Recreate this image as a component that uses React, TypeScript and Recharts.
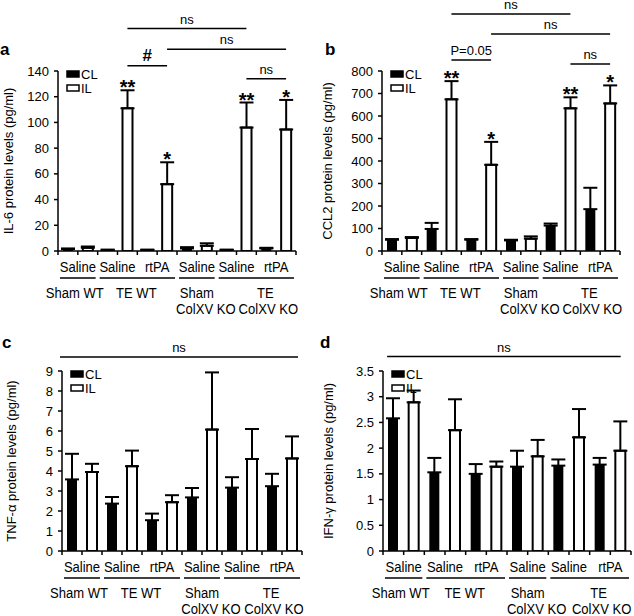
import React from 'react';
import { BarChart, Bar, XAxis, YAxis, ErrorBar, ReferenceLine, ReferenceDot, Legend } from 'recharts';

const FONT = 'Arial, "Liberation Sans", Helvetica, sans-serif';

// x axis: treatment per category, then the genotype groups below them
const treatments = ['Saline', 'Saline', 'rtPA', 'Saline', 'Saline', 'rtPA'];
const groupLines = [['Sham WT'], ['TE WT'], ['Sham', 'ColXV KO'], ['TE', 'ColXV KO']];
const groupStart = [0, 1, 3, 4];
const groupSpan = [1, 2, 1, 2];
const groupDx = [[-3], [-1], [0, 9], [9, 12]];
// one slot per bar, 12 in all; ticks sit between the bars
const slotTicks = [0, 1, 2, 3, 4, 5, 6, 7, 8, 9, 10, 11, 12];

// a: IL-6
const il6CL = [1.5, 0.8, 0.8, 2, 0.8, 2];
const il6CLErr = [0.5, 0.3, 0.3, 1, 0.3, 0.5];
const il6IL = [2.5, 111, 52, 4, 96, 94.5];
const il6ILErr = [1, 14, 17, 2, 19.5, 23];
const il6Ticks = [0, 20, 40, 60, 80, 100, 120, 140];

// b: CCL2
const ccl2CL = [50, 98, 50, 47, 113, 186];
const ccl2CLErr = [3, 27, 3, 3, 9, 95];
const ccl2IL = [58, 674, 383, 55, 634, 656];
const ccl2ILErr = [4, 81, 102, 10, 49, 80];
const ccl2Ticks = [0, 100, 200, 300, 400, 500, 600, 700, 800];

// c: TNF-α
const tnfCL = [3.58, 2.37, 1.54, 2.68, 3.17, 3.24];
const tnfCLErr = [1.28, 0.33, 0.33, 0.47, 0.52, 0.62];
const tnfIL = [3.95, 4.24, 2.44, 6.07, 4.6, 4.63];
const tnfILErr = [0.41, 0.78, 0.35, 2.86, 1.5, 1.1];
const tnfTicks = [0, 1, 2, 3, 4, 5, 6, 7, 8, 9];

// d: IFN-γ
const ifnCL = [2.58, 1.53, 1.5, 1.64, 1.66, 1.68];
const ifnCLErr = [0.39, 0.28, 0.19, 0.31, 0.12, 0.13];
const ifnIL = [2.89, 2.35, 1.64, 1.84, 2.21, 1.95];
const ifnILErr = [0.23, 0.6, 0.1, 0.32, 0.55, 0.57];
const ifnTicks = [0, 0.5, 1, 1.5, 2, 2.5, 3, 3.5];

// significance brackets (x in bar slots, y in data units) and stars on IL bars
type Sig = { from: number; to: number; y: number; text: string };
type Star = { cat: number; mark: string };

const il6Sig: Sig[] = [
  { from: 3.5, to: 9.5, y: 173, text: 'ns' },
  { from: 5.5, to: 11.5, y: 157, text: 'ns' },
  { from: 3.5, to: 5.5, y: 144, text: '#' },
  { from: 9.5, to: 11.5, y: 134, text: 'ns' },
];
const il6Stars: Star[] = [
  { cat: 1, mark: '**' },
  { cat: 2, mark: '*' },
  { cat: 4, mark: '**' },
  { cat: 5, mark: '*' },
];
const ccl2Sig: Sig[] = [
  { from: 3.5, to: 9.5, y: 1053, text: 'ns' },
  { from: 5.5, to: 11.5, y: 964, text: 'ns' },
  { from: 3.5, to: 5.5, y: 849, text: 'P=0.05' },
  { from: 9.5, to: 11.5, y: 831, text: 'ns' },
];
const ccl2Stars: Star[] = il6Stars;
const tnfSig: Sig[] = [{ from: -0.1, to: 11.8, y: 9.7, text: 'ns' }];
const ifnSig: Sig[] = [{ from: 0.2, to: 11.5, y: 3.78, text: 'ns' }];

// slightly condensed text, like the original figure's lettering
function Narrow({ x, y, children }: { x: number; y: number; children: React.ReactNode }) {
  return (
    <text transform={`translate(${x},${y}) scale(0.9,1)`} textAnchor="middle" fontSize={14.5}>
      {children}
    </text>
  );
}

function SlotTick(props: any) {
  const { x, y, payload, catW } = props;
  const v = payload.value;
  if (v % 2 !== 1) return <g />;
  const k = (v - 1) / 2;
  const ay = y - 4;
  const g = groupStart.indexOf(k);
  const start = x - catW / 2;
  return (
    <g fontFamily={FONT} fill="#000">
      <Narrow x={x} y={ay + 21}>
        {treatments[k]}
      </Narrow>
      {g >= 0 && (
        <>
          <line
            x1={start + 2}
            x2={start + groupSpan[g] * catW - 2}
            y1={ay + 27}
            y2={ay + 27}
            stroke="#000"
            strokeWidth={1.5}
          />
          {groupLines[g].map((t, j) => (
            <Narrow key={j} x={start + (groupSpan[g] * catW) / 2 + groupDx[g][j]} y={ay + 47 + j * 16}>
              {t}
            </Narrow>
          ))}
        </>
      )}
    </g>
  );
}

const renderLegend = (props: any) => (
  <div style={{ fontFamily: FONT, fontSize: 13, color: '#000' }}>
    {(props.payload || []).map((entry: any) => (
      <div key={entry.value} style={{ display: 'flex', alignItems: 'center', height: 14 }}>
        <svg width={15} height={8}>
          <rect x={1} y={1} width={12} height={6} fill={entry.color} stroke="#000" strokeWidth={1.5} />
        </svg>
        <span>{entry.value}</span>
      </div>
    ))}
  </div>
);

interface PanelProps {
  cl: number[];
  clErr: number[];
  il: number[];
  ilErr: number[];
  ticks: number[];
  yLabel: string;
  sig: Sig[];
  stars: Star[];
  left: number;
  top: number;
  plotLeft: number;
  plotWidth: number;
  labelOffset: number;
}

function Panel(p: PanelProps) {
  const data = treatments.map((t, i) => ({
    name: t,
    center: 2 * i + 1,
    cl: p.cl[i],
    clErr: [0, p.clErr[i]],
    il: p.il[i],
    ilErr: [0, p.ilErr[i]],
  }));
  const slot = p.plotWidth / 12;
  const yMax = p.ticks[p.ticks.length - 1];
  return (
    <div style={{ position: 'absolute', left: p.left, top: p.top }}>
      <BarChart
        width={317}
        height={316}
        data={data}
        margin={{ top: 71, right: 317 - p.plotLeft - p.plotWidth, bottom: 0, left: 0 }}
        barSize={10}
        barGap={slot - 10}
      >
        <XAxis xAxisId="cat" dataKey="name" orientation="top" height={0} hide />
        <XAxis
          xAxisId="slots"
          dataKey="center"
          type="number"
          domain={[0, 12]}
          ticks={slotTicks}
          interval={0}
          allowDataOverflow
          height={65}
          tickSize={4}
          tickMargin={0}
          axisLine={{ stroke: '#000', strokeWidth: 1.5 }}
          tickLine={{ stroke: '#000', strokeWidth: 1.5 }}
          tick={<SlotTick catW={p.plotWidth / 6} />}
        />
        <YAxis
          type="number"
          domain={[0, yMax]}
          ticks={p.ticks}
          interval={0}
          allowDataOverflow
          width={p.plotLeft}
          tickSize={4}
          tickMargin={5}
          axisLine={{ stroke: '#000', strokeWidth: 1.5 }}
          tickLine={{ stroke: '#000', strokeWidth: 1.5 }}
          tick={{ fill: '#000', fontSize: 13, fontFamily: FONT }}
          label={{
            value: p.yLabel,
            angle: -90,
            position: 'insideLeft',
            offset: p.labelOffset,
            style: { textAnchor: 'middle', fontSize: 13, fontFamily: FONT, fill: '#000' },
          }}
        />
        <Legend
          layout="vertical"
          align="center"
          verticalAlign="middle"
          wrapperStyle={{ left: p.plotLeft + 8, top: 67, width: 50 }}
          content={renderLegend}
        />
        <Bar xAxisId="cat" dataKey="cl" name="CL" fill="#000" isAnimationActive={false}>
          <ErrorBar dataKey="clErr" width={7} stroke="#000" strokeWidth={2} />
        </Bar>
        <Bar xAxisId="cat" dataKey="il" name="IL" fill="#fff" stroke="#000" strokeWidth={2} isAnimationActive={false}>
          <ErrorBar dataKey="ilErr" width={7} stroke="#000" strokeWidth={2} />
        </Bar>
        {p.sig.map((s, i) => (
          <ReferenceLine
            key={`sig-${i}`}
            xAxisId="slots"
            segment={[
              { x: s.from, y: s.y },
              { x: s.to, y: s.y },
            ]}
            ifOverflow="visible"
            stroke="#000"
            strokeWidth={1.5}
            label={{
              value: s.text,
              position: 'top',
              offset: 5,
              fill: '#000',
              fontSize: s.text === '#' ? 17 : 13,
              fontWeight: s.text === '#' ? 'bold' : 'normal',
              fontFamily: FONT,
            }}
          />
        ))}
        {p.stars.map((s, i) => (
          <ReferenceDot
            key={`star-${i}`}
            xAxisId="slots"
            x={2 * s.cat + 1.5}
            y={p.il[s.cat] + p.ilErr[s.cat]}
            r={0}
            fill="none"
            stroke="none"
            ifOverflow="visible"
            label={{
              value: s.mark,
              position: 'top',
              offset: -4,
              fill: '#000',
              fontSize: 20,
              fontWeight: 'bold',
              fontFamily: FONT,
            }}
          />
        ))}
      </BarChart>
    </div>
  );
}

export default function App() {
  return (
    <div style={{ position: 'absolute', left: 0, top: 0, width: 634, height: 616, background: '#fff' }}>
      <Panel
        cl={il6CL}
        clErr={il6CLErr}
        il={il6IL}
        ilErr={il6ILErr}
        ticks={il6Ticks}
        yLabel="IL-6 protein levels (pg/ml)"
        sig={il6Sig}
        stars={il6Stars}
        left={0}
        top={0}
        plotLeft={58}
        plotWidth={238}
        labelOffset={8}
      />
      <Panel
        cl={ccl2CL}
        clErr={ccl2CLErr}
        il={ccl2IL}
        ilErr={ccl2ILErr}
        ticks={ccl2Ticks}
        yLabel="CCL2 protein levels (pg/ml)"
        sig={ccl2Sig}
        stars={ccl2Stars}
        left={317}
        top={0}
        plotLeft={65}
        plotWidth={238}
        labelOffset={10}
      />
      <Panel
        cl={tnfCL}
        clErr={tnfCLErr}
        il={tnfIL}
        ilErr={tnfILErr}
        ticks={tnfTicks}
        yLabel="TNF-α protein levels (pg/ml)"
        sig={tnfSig}
        stars={[]}
        left={0}
        top={300}
        plotLeft={62}
        plotWidth={240}
        labelOffset={11}
      />
      <Panel
        cl={ifnCL}
        clErr={ifnCLErr}
        il={ifnIL}
        ilErr={ifnILErr}
        ticks={ifnTicks}
        yLabel="IFN-γ protein levels (pg/ml)"
        sig={ifnSig}
        stars={[]}
        left={317}
        top={300}
        plotLeft={66}
        plotWidth={248}
        labelOffset={11}
      />
      <svg
        width={634}
        height={616}
        style={{ position: 'absolute', left: 0, top: 0, pointerEvents: 'none' }}
        fontFamily={FONT}
        fontWeight="bold"
        fontSize={17}
      >
        <text x={0} y={55}>a</text>
        <text x={325} y={55}>b</text>
        <text x={2} y={348}>c</text>
        <text x={320} y={348}>d</text>
      </svg>
    </div>
  );
}
